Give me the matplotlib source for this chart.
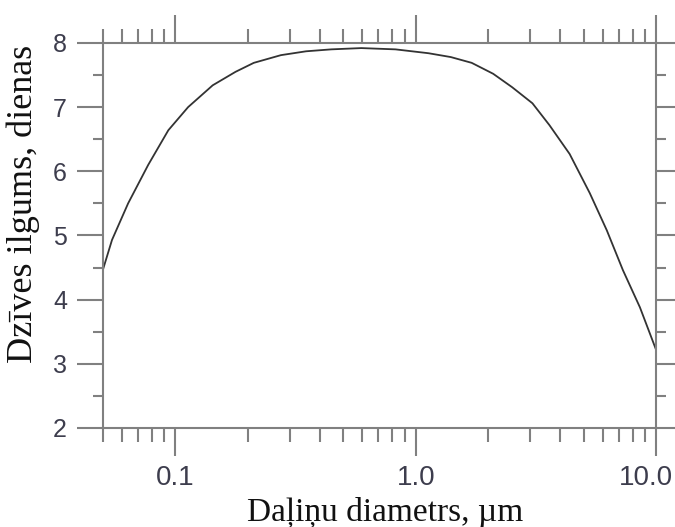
import numpy as np
import matplotlib
matplotlib.use('Agg')
import matplotlib.pyplot as plt
import matplotlib.ticker as mticker
import matplotlib.transforms as mtransforms

# particle diameter (um) and lifetime (days)
diam = [0.05, 0.0545, 0.0636, 0.0771, 0.0935, 0.113, 0.143, 0.178, 0.212, 0.275,
        0.35, 0.445, 0.594, 0.824, 1.13, 1.4, 1.71, 2.1, 2.52, 3.06, 3.6, 4.37,
        5.3, 6.24, 7.28, 8.57, 10.0]
life = [4.47, 4.93, 5.50, 6.10, 6.64, 7.00, 7.34, 7.55, 7.69, 7.81,
        7.87, 7.90, 7.92, 7.90, 7.84, 7.78, 7.69, 7.52, 7.31, 7.06, 6.72, 6.27,
        5.66, 5.08, 4.46, 3.88, 3.22]

xticks = [0.1, 1.0, 10.0]
xticklabels = ['0.1', '1.0', '10.0']
yticks = [2, 3, 4, 5, 6, 7, 8]

spine_col = '#808080'
label_col = '#3d3d4d'

fig = plt.figure(figsize=(6.75, 5.27), dpi=100)
ax = fig.add_axes([0.1526, 0.1879, 0.8193, 0.7306])

ax.plot(diam, life, color='#333333', lw=1.3)

ax.set_xscale('log')
ax.set_xlim(0.05, 10.0)
ax.set_ylim(2, 8)

ax.xaxis.set_major_locator(mticker.FixedLocator(xticks))
ax.xaxis.set_major_formatter(mticker.FixedFormatter(xticklabels))
ax.xaxis.set_minor_locator(mticker.LogLocator(base=10, subs=np.arange(2, 10)))
ax.xaxis.set_minor_formatter(mticker.NullFormatter())
ax.yaxis.set_major_locator(mticker.FixedLocator(yticks))
ax.yaxis.set_minor_locator(mticker.MultipleLocator(0.5))

for s in ax.spines.values():
    s.set_color(spine_col)
    s.set_linewidth(1.5)

ax.tick_params(axis='x', which='major', direction='out', length=20, width=1.5,
               color=spine_col, top=True, bottom=True, pad=7,
               labelsize=20, labelcolor=label_col)
ax.tick_params(axis='x', which='minor', direction='out', length=10, width=1.5,
               color=spine_col, top=True, bottom=True)
ax.tick_params(axis='y', which='major', direction='out', length=19, width=1.5,
               color=spine_col, left=True, right=True, pad=7,
               labelsize=18, labelcolor=label_col)
ax.tick_params(axis='y', which='minor', direction='out', length=7, width=1.5,
               color=spine_col, left=True, right=True)
for lab in ax.get_xticklabels() + ax.get_yticklabels():
    lab.set_family('Liberation Sans')

# the last x label sits a little left of its tick, so it stays inside the figure
last = ax.get_xticklabels()[-1]
last.set_transform(last.get_transform() +
                   mtransforms.ScaledTranslation(-10 / 100, 0, fig.dpi_scale_trans))

fig.text(0.034, 0.613, 'Dzīves ilgums, dienas', rotation=90, ha='center', va='center',
         family='Liberation Serif', fontsize=26, color='#111111')
fig.text(0.570, 0.027, 'Daļiņu diametrs, µm', ha='center', va='center',
         family='Liberation Serif', fontsize=24, color='#111111')

fig.savefig('out.png', dpi=100)
